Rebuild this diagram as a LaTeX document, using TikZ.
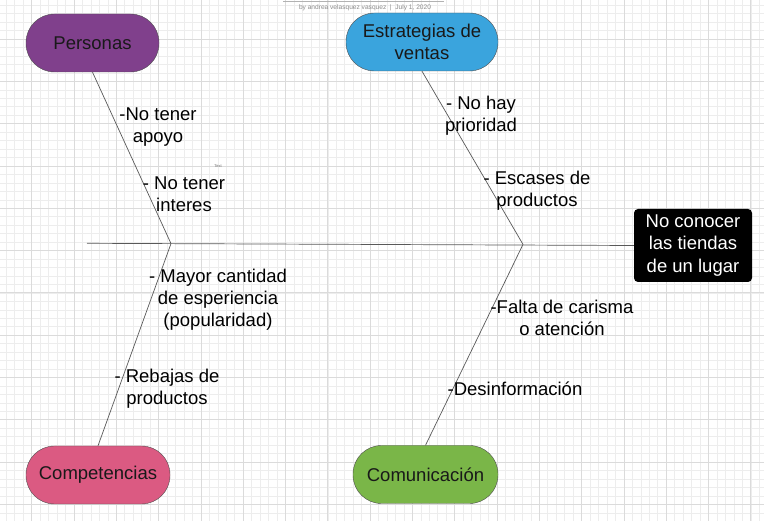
\documentclass[tikz,border=0pt]{standalone}
\usepackage{fontspec}
\setmainfont{Liberation Sans}
\definecolor{personas}{RGB}{128,64,140}
\definecolor{estrategias}{RGB}{58,164,221}
\definecolor{competencias}{RGB}{219,90,130}
\definecolor{comunicacion}{RGB}{122,182,72}
\tikzset{
  minorline/.style={draw=black!7,line width=0.6pt},
  majorline/.style={draw=black!14,line width=0.8pt},
  causa/.style={draw=black!70,rounded corners=28.5pt,minimum height=58pt,
    align=center,text=black!90,font=\fontsize{18.5}{22}\selectfont,inner sep=0pt},
  efecto/.style={fill=black,rounded corners=4pt,minimum width=118pt,minimum height=73pt,
    align=center,text=white,font=\fontsize{18.5}{22.5}\selectfont,inner sep=0pt},
  espina/.style={draw=black!65,line width=0.7pt},
  nota/.style={align=center,font=\fontsize{18.5}{22}\selectfont,inner sep=0pt}
}
\begin{document}
\begin{tikzpicture}[x=1pt,y=-1pt]
\useasboundingbox (0,0) rectangle (764,521);
\fill[white] (0,0) rectangle (764,521);

% cuadricula
\foreach \i in {-4,...,87}
  \draw[minorline] ({31.7+8.46*\i},0) -- ({31.7+8.46*\i},521);
\foreach \i in {-25,...,38}
  \draw[minorline] (0,{208.3+8.46*\i}) -- (764,{208.3+8.46*\i});
\foreach \i in {-1,...,18}
  \draw[majorline] ({31.7+42.3*\i},0) -- ({31.7+42.3*\i},521);
\foreach \i in {-5,...,8}
  \draw[majorline] (0,{208.3+42.3*\i}) -- (764,{208.3+42.3*\i});

% cabecera
\draw[black!30,line width=0.6pt] (283,1.5) -- (444,1.5);
\node[text=black!45,font=\fontsize{6.6}{7}\selectfont,inner sep=0pt] (firma) at (365,7.5)
  {by andrea velasquez vasquez \ | \ July 1, 2020};
\node[text=black!55,font=\fontsize{4}{5}\selectfont,inner sep=0pt] (txt) at (218,166) {Text};

% categorias
\node[causa,fill=personas,minimum width=133pt] (personas) at (92.5,43) {Personas};
\node[causa,fill=estrategias,minimum width=152pt] (estrategias) at (422,42) {Estrategias de\\ventas};
\node[causa,fill=competencias,minimum width=144pt] (competencias) at (98,475) {Competencias};
\node[causa,fill=comunicacion,minimum width=145pt] (comunicacion) at (425.5,474.5) {Comunicación};
\node[efecto] (problema) at (693,245.5) {No conocer\\las tiendas\\de un lugar};

% espina
\coordinate (cola) at (87,243.3);
\coordinate (nudoA) at (171,243.6);
\coordinate (nudoB) at (523,244.4);
\draw[espina] (cola) -- (problema.west);
\draw[espina] (personas.south) -- (nudoA) -- (competencias.north);
\draw[espina] (estrategias.south) -- (nudoB) -- (comunicacion.north);

% causas
\node[nota] (apoyo) at (158,127) {-No tener\\apoyo};
\node[nota] (interes) at (184,194) {- No tener\\interes};
\node[nota] (mayor) at (218,300) {- Mayor cantidad\\de esperiencia\\(popularidad)};
\node[nota] (rebajas) at (167,389) {- Rebajas de\\productos};
\node[nota] (prioridad) at (481,116) {- No hay\\prioridad};
\node[nota] (escases) at (537,191) {- Escases de\\productos};
\node[nota] (falta) at (562,318) {-Falta de carisma\\o atención};
\node[nota] (desinfo) at (515,389) {-Desinformación};
\end{tikzpicture}
\end{document}
